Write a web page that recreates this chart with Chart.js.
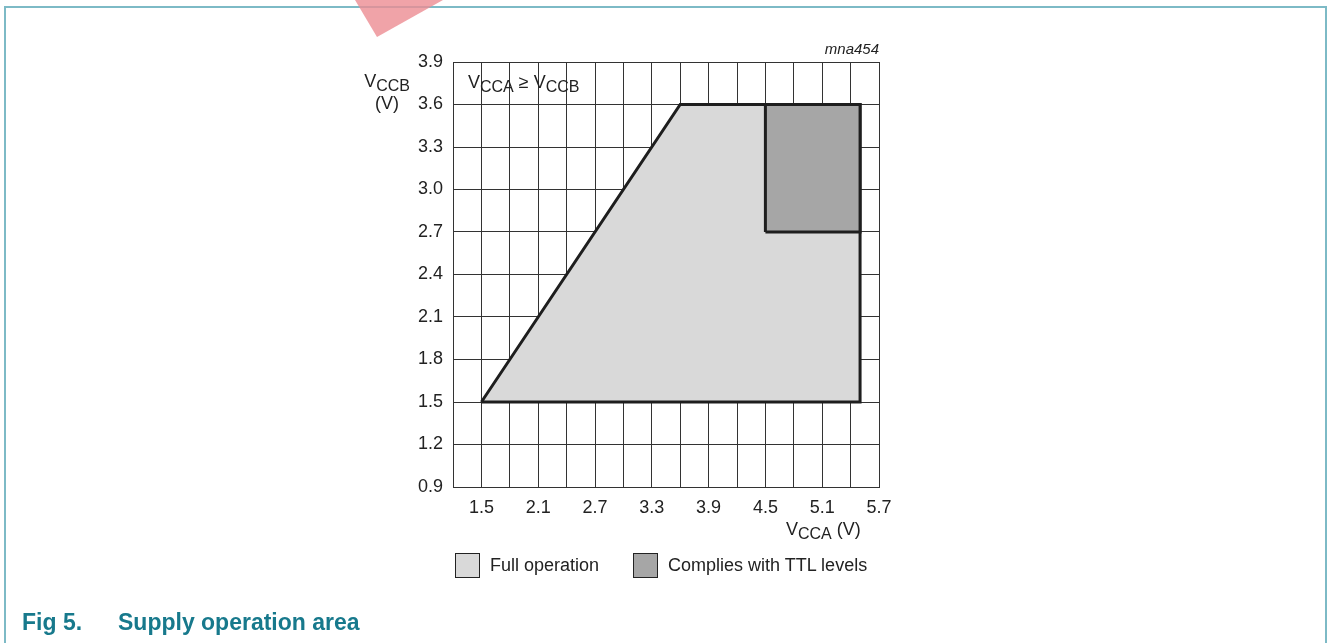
<!DOCTYPE html>
<html>
<head>
<meta charset="utf-8">
<script src="https://cdn.jsdelivr.net/npm/chart.js@4.4.1/dist/chart.umd.min.js"></script>
<style>
  html, body { margin: 0; padding: 0; background: #fff; width: 1327px; height: 643px; overflow: hidden;
    font-family: "Liberation Sans", Arial, sans-serif; }
  #wrap { position: absolute; left: 0; top: 0; width: 1327px; height: 643px; }
  #frame { position: absolute; left: 4px; top: 6px; width: 1319px; height: 700px;
    border: 2px solid #7dbac6; border-bottom: none; }
  #mark { position: absolute; left: 355px; top: 0; width: 88px; height: 37px;
    background: rgba(236, 140, 146, 0.8); clip-path: polygon(0 0, 100% 0, 25% 100%); }
  #legend { position: absolute; left: 455px; top: 553px; display: flex; align-items: center;
    font-size: 18px; color: #222; }
  #legend .item { display: flex; align-items: center; margin-right: 34px; }
  #legend .box { width: 23px; height: 23px; border: 1.5px solid #222; margin-right: 10px; }
  .cap { position: absolute; top: 611px; font-size: 23px; font-weight: bold; color: #17798c; line-height: 1; }
</style>
</head>
<body>
<div id="frame"></div>
<div id="mark"></div>
<div id="wrap"><canvas id="chart"></canvas></div>
<div id="legend"></div>
<div class="cap" style="left:22px">Fig 5.</div>
<div class="cap" style="left:118px">Supply operation area</div>
<script>
// ejes: rejilla cada 0.3 V, etiquetas en x cada 0.6 V
const xGrid = [1.2, 1.5, 1.8, 2.1, 2.4, 2.7, 3.0, 3.3, 3.6, 3.9, 4.2, 4.5, 4.8, 5.1, 5.4, 5.7];
const xTickLabels = ['1.5', '2.1', '2.7', '3.3', '3.9', '4.5', '5.1', '5.7'];
const yGrid = [0.9, 1.2, 1.5, 1.8, 2.1, 2.4, 2.7, 3.0, 3.3, 3.6, 3.9];
const yTickLabels = ['0.9', '1.2', '1.5', '1.8', '2.1', '2.4', '2.7', '3.0', '3.3', '3.6', '3.9'];

// zonas de operación (contornos cerrados)
const fullVcca = [1.5, 3.6, 5.5, 5.5, 1.5];
const fullVccb = [1.5, 3.6, 3.6, 1.5, 1.5];
const ttlVcca = [4.5, 4.5, 5.5, 5.5, 4.5];
const ttlVccb = [2.7, 3.6, 3.6, 2.7, 2.7];

const INK = '#1e1e1e';
const FONT = '"Liberation Sans", Arial, sans-serif';

const toPoints = (xs, ys) => xs.map((x, i) => ({ x, y: ys[i] }));

// texto con subíndices: [{t:'V'}, {t:'CCB', sub:true}]
function drawRich(ctx, parts, x, y, align, size) {
  const font = (p) => `${p.italic ? 'italic ' : ''}${p.sub ? Math.round(size * 0.87) : size}px ${FONT}`;
  let total = 0;
  parts.forEach((p) => { ctx.font = font(p); total += ctx.measureText(p.t).width; });
  let cx = align === 'right' ? x - total : align === 'center' ? x - total / 2 : x;
  ctx.textAlign = 'left';
  ctx.textBaseline = 'alphabetic';
  parts.forEach((p) => {
    ctx.font = font(p);
    ctx.fillText(p.t, cx, p.sub ? y + 4 : y);
    cx += ctx.measureText(p.t).width;
  });
}

const annotations = {
  id: 'annotations',
  afterDraw(chart) {
    const { ctx, chartArea: a } = chart;
    ctx.save();
    ctx.fillStyle = '#222';
    drawRich(ctx, [{ t: 'V' }, { t: 'CCB', sub: true }], a.left - 43, 87, 'right', 18);
    drawRich(ctx, [{ t: '(V)' }], a.left - 66, 109, 'center', 18);
    drawRich(ctx, [{ t: 'V' }, { t: 'CCA', sub: true }, { t: ' \u2265 V' }, { t: 'CCB', sub: true }],
      a.left + 15, 88, 'left', 18);
    drawRich(ctx, [{ t: 'mna454', italic: true }], a.right, 54, 'right', 15);
    drawRich(ctx, [{ t: 'V' }, { t: 'CCA', sub: true }, { t: ' (V)' }], a.right - 93, 535, 'left', 18);
    ctx.restore();
  },
};

const datasets = [
  {
    label: 'Complies with TTL levels',
    data: toPoints(ttlVcca, ttlVccb),
    backgroundColor: '#a6a6a6',
    order: 1,
  },
  {
    label: 'Full operation',
    data: toPoints(fullVcca, fullVccb),
    backgroundColor: '#d9d9d9',
    order: 2,
  },
].map((d) => ({
  ...d,
  showLine: true,
  fill: 'shape',
  borderColor: INK,
  borderWidth: 3,
  borderJoinStyle: 'miter',
  pointRadius: 0,
  tension: 0,
}));

const gridOpts = { color: '#333', lineWidth: 1, drawTicks: false };
const borderOpts = { display: true, color: '#333', width: 1 };
const tickFont = { family: FONT, size: 18 };

new Chart(document.getElementById('chart'), {
  type: 'scatter',
  data: { datasets },
  plugins: [annotations],
  options: {
    responsive: true,
    maintainAspectRatio: false,
    animation: false,
    layout: { padding: { left: 393, right: 448, top: 62, bottom: 116 } },
    plugins: { legend: { display: false }, tooltip: { enabled: false } },
    scales: {
      x: {
        type: 'linear',
        min: 1.2,
        max: 5.7,
        z: 1,
        grid: gridOpts,
        border: borderOpts,
        afterBuildTicks: (s) => { s.ticks = xGrid.map((v) => ({ value: v })); },
        afterFit: (s) => { s.height = 40; },
        ticks: {
          autoSkip: false,
          maxRotation: 0,
          padding: 10,
          color: '#222',
          font: tickFont,
          callback: (v) => (xTickLabels.includes(Number(v).toFixed(1)) ? Number(v).toFixed(1) : ''),
        },
      },
      y: {
        type: 'linear',
        min: 0.9,
        max: 3.9,
        z: 1,
        grid: gridOpts,
        border: borderOpts,
        afterBuildTicks: (s) => { s.ticks = yGrid.map((v) => ({ value: v })); },
        afterFit: (s) => { s.width = 60; },
        ticks: {
          autoSkip: false,
          padding: 10,
          color: '#222',
          font: tickFont,
          callback: (v, i) => yTickLabels[i],
        },
      },
    },
  },
});

// leyenda HTML a partir de los datasets, en el orden de la figura
const legend = document.getElementById('legend');
datasets.slice().reverse().forEach((d) => {
  const item = document.createElement('div');
  item.className = 'item';
  item.innerHTML = `<div class="box" style="background:${d.backgroundColor}"></div><span>${d.label}</span>`;
  legend.appendChild(item);
});
</script>
</body>
</html>
